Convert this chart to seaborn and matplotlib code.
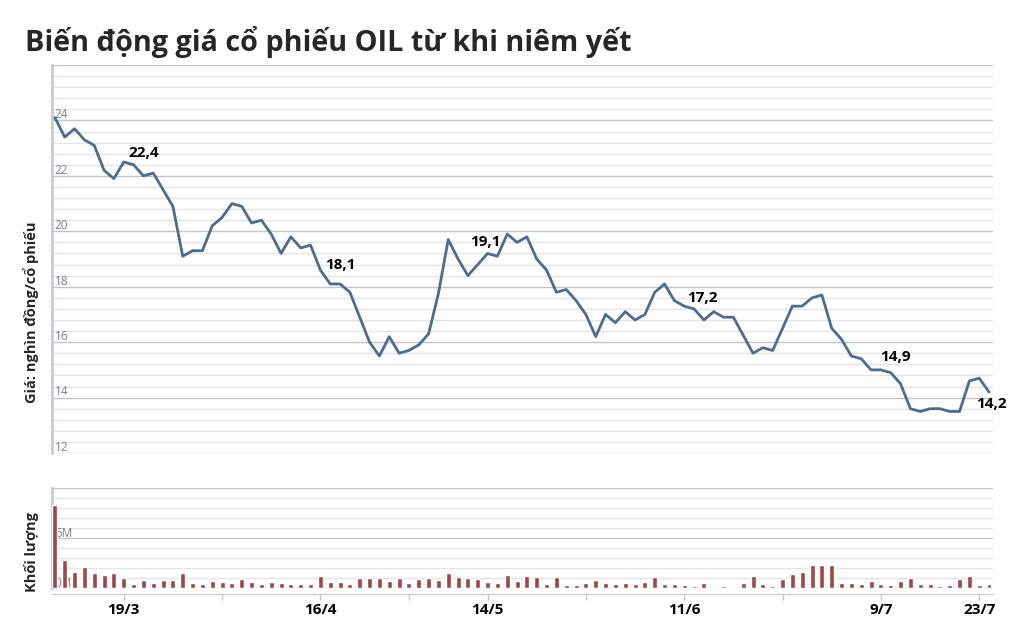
import numpy as np
import pandas as pd
import seaborn as sns
import matplotlib.pyplot as plt
from matplotlib.ticker import MultipleLocator

# Price (nghin dong) and volume (million shares) per trading day
price = [24.1, 23.4, 23.7, 23.3, 23.1, 22.2, 21.9, 22.5, 22.4, 22.0,
         22.1, 21.5, 20.9, 19.1, 19.3, 19.3, 20.2, 20.5, 21.0, 20.9,
         20.3, 20.4, 19.9, 19.2, 19.8, 19.4, 19.5, 18.6, 18.1, 18.1,
         17.8, 16.9, 16.0, 15.5, 16.2, 15.6, 15.7, 15.9, 16.3, 17.75,
         19.7, 19.0, 18.4, 18.8, 19.2, 19.1, 19.9, 19.6, 19.8, 19.0,
         18.6, 17.8, 17.9, 17.5, 17.0, 16.2, 17.0, 16.7, 17.1, 16.8,
         17.0, 17.8, 18.1, 17.5, 17.3, 17.2, 16.8, 17.1, 16.9, 16.9,
         16.25, 15.6, 15.8, 15.7, 16.5, 17.3, 17.3, 17.6, 17.7, 16.5,
         16.1, 15.5, 15.4, 15.0, 15.0, 14.9, 14.5, 13.6, 13.5, 13.6,
         13.6, 13.5, 13.5, 14.6, 14.7, 14.2]

volume = [8.3, 2.8, 1.6, 2.1, 1.5, 1.3, 1.5, 1.0, 0.4, 0.8,
          0.5, 0.8, 0.8, 1.5, 0.5, 0.4, 0.7, 0.6, 0.5, 0.9,
          0.6, 0.4, 0.6, 0.5, 0.4, 0.4, 0.4, 1.2, 0.6, 0.6,
          0.4, 1.0, 1.0, 1.0, 0.7, 1.0, 0.5, 0.9, 1.0, 0.8,
          1.5, 1.1, 1.0, 0.9, 0.6, 0.5, 1.3, 0.7, 1.2, 1.1,
          0.4, 1.1, 0.3, 0.3, 0.5, 0.8, 0.5, 0.4, 0.5, 0.4,
          0.6, 1.1, 0.4, 0.4, 0.3, 0.2, 0.5, 0.1, 0.2, 0.1,
          0.5, 1.2, 0.4, 0.2, 0.9, 1.4, 1.6, 2.3, 2.3, 2.3,
          0.5, 0.5, 0.4, 0.7, 0.4, 0.3, 0.7, 1.0, 0.4, 0.4,
          0.2, 0.3, 0.9, 1.2, 0.3, 0.4]

day = list(range(len(price)))

# date ticks (trading-day index)
tick_days = [7, 27, 44, 64, 84, 94]
tick_labels = ['19/3', '16/4', '14/5', '11/6', '9/7', '23/7']
minor_days = [17, 36, 54, 74]

# labelled points
note_days = [8, 28, 45, 65, 85, 95]
note_text = ['22,4', '18,1', '19,1', '17,2', '14,9', '14,2']
note_offset = [(10, 12), (10, 19), (-12, 14), (8, 11), (5, 16), (2, -12)]

df = pd.DataFrame({'day': day, 'price': price, 'volume': volume})

sns.set_style('white')
plt.rcParams['font.family'] = ['Open Sans', 'DejaVu Sans']

line_col = '#4e6c8c'
bar_col = '#9b4849'
spine_col = '#c3ccd6'

fig = plt.figure(figsize=(10.15, 6.36), dpi=100)
ax1 = fig.add_axes([0.0512, 0.2877, 0.9271, 0.6101])
ax2 = fig.add_axes([0.0512, 0.0755, 0.9271, 0.1572])

######################################## Price ########################################

sns.lineplot(data=df, x='day', y='price', ax=ax1, color=line_col, linewidth=2, zorder=3)
ax1.set_xlim(-0.3, 95.4)
ax1.set_ylim(12, 26)
ax1.yaxis.set_major_locator(MultipleLocator(2))
ax1.yaxis.set_minor_locator(MultipleLocator(0.4))
ax1.grid(axis='y', which='major', color='#c4c4c4', linewidth=1)
ax1.grid(axis='y', which='minor', color='#e4e4e4', linewidth=1)
ax1.set_xticks([])
ax1.tick_params(axis='y', which='both', left=False, labelleft=False)
ax1.set_xlabel('')
ax1.set_ylabel('')
for s in ['top', 'right', 'bottom']:
    ax1.spines[s].set_visible(False)
ax1.spines['left'].set_color(spine_col)
ax1.spines['left'].set_linewidth(2)

for v in range(12, 26, 2):
    ax1.text(0.003, v - 0.03, str(v), transform=ax1.get_yaxis_transform(),
             ha='left', va='bottom', fontsize=8.5, color='#808080')

for d, t, off in zip(note_days, note_text, note_offset):
    ax1.annotate(t, xy=(d, price[d]), xytext=off, textcoords='offset pixels',
                 ha='center', va='center', fontsize=11, fontweight='bold', color='black')

######################################## Volume ########################################

sns.barplot(data=df, x='day', y='volume', ax=ax2, color=bar_col, saturation=1,
            width=0.5, zorder=3)

# spine position resets the ticks, so do it before styling labels
for s in ['top', 'right']:
    ax2.spines[s].set_visible(False)
ax2.spines['left'].set_color(spine_col)
ax2.spines['left'].set_linewidth(2)
ax2.spines['bottom'].set_position(('outward', 4))
ax2.spines['bottom'].set_color('#c8c8c8')

ax2.set_xlim(-0.3, 95.4)
ax2.set_ylim(0, 10)
ax2.yaxis.set_major_locator(MultipleLocator(5))
ax2.yaxis.set_minor_locator(MultipleLocator(1))
ax2.grid(axis='y', which='major', color='#c4c4c4', linewidth=1)
ax2.grid(axis='y', which='minor', color='#e4e4e4', linewidth=1)
ax2.tick_params(axis='y', which='both', left=False, labelleft=False)
ax2.set_xticks(minor_days, minor=True)
ax2.set_xticks(tick_days)
ax2.set_xticklabels(tick_labels, fontsize=11, fontweight='bold', color='black')
ax2.tick_params(axis='x', which='both', bottom=True, length=4, width=1,
                color='#c8c8c8', pad=3)
ax2.set_xlabel('')
ax2.set_ylabel('')

for v, t in [(0, '0M'), (5, '5M')]:
    ax2.text(0.003, v - 0.2, t, transform=ax2.get_yaxis_transform(),
             ha='left', va='bottom', fontsize=8.5, color='#808080', zorder=1)

######################################## Text ########################################

fig.text(25 / 1015, 1 - 42 / 636, 'Biến động giá cổ phiếu OIL từ khi niêm yết',
         ha='left', va='center', fontsize=20.7, fontweight='bold')
fig.text(31 / 1015, 1 - 312 / 636, 'Giá: nghìn đồng/cổ phiếu', rotation=90,
         ha='center', va='center', fontsize=10.5, fontweight='bold')
fig.text(32 / 1015, 1 - 552 / 636, 'Khối lượng', rotation=90,
         ha='center', va='center', fontsize=10.5, fontweight='bold')

fig.savefig('out.png', dpi=100)
